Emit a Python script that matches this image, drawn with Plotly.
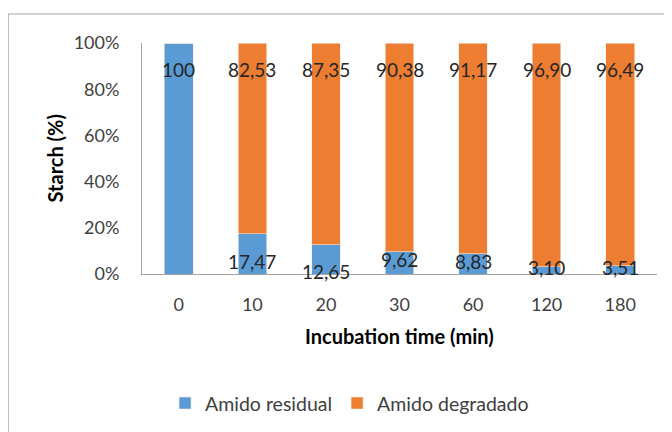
import plotly.graph_objects as go

categories = ["0", "10", "20", "30", "60", "120", "180"]
residual = [100, 17.47, 12.65, 9.62, 8.83, 3.10, 3.51]
degraded = [0, 82.53, 87.35, 90.38, 91.17, 96.90, 96.49]

# label placement (layout, in % units of the y axis)
residual_label_y = [88.7, 5.2, 0.9, 6.1, 5.2, 3.0, 3.0]
degraded_label_y = 88.7

BLUE = "#5B9BD5"
ORANGE = "#ED7D31"
FONT = "Lato"


def fmt(v):
    if v == 100:
        return "100"
    return f"{v:.2f}".replace(".", ",")


fig = go.Figure()
fig.add_trace(go.Bar(x=categories, y=residual, name="Amido residual",
                     marker=dict(color=BLUE, line=dict(color="#F3E9E0", width=0.6))))
fig.add_trace(go.Bar(x=categories, y=degraded, name="Amido degradado",
                     marker=dict(color=ORANGE, line=dict(color="#F3E9E0", width=0.6))))

annotations = []
for i, (r, d, ry) in enumerate(zip(residual, degraded, residual_label_y)):
    annotations.append(dict(x=i, y=ry, xref="x", yref="y", text=fmt(r), showarrow=False,
                            font=dict(family=FONT, size=19, color="#262626")))
    if d > 0:
        annotations.append(dict(x=i, y=degraded_label_y, xref="x", yref="y", text=fmt(d),
                                showarrow=False, font=dict(family=FONT, size=19, color="#262626")))

# axis titles
annotations.append(dict(x=0.5, y=-0.27, xref="paper", yref="paper", text="<b>Incubation time (min)</b>",
                        showarrow=False, font=dict(family=FONT, size=20, color="#000000"),
                        xanchor="center", yanchor="middle"))
annotations.append(dict(x=-0.169, y=0.5, xref="paper", yref="paper", text="<b>Starch (%)</b>",
                        showarrow=False, textangle=-90, font=dict(family=FONT, size=20, color="#000000"),
                        xanchor="center", yanchor="middle"))

fig.update_layout(
    barmode="stack",
    bargap=0.61,
    width=672, height=432,
    margin=dict(l=134, r=23, t=35, b=166),
    paper_bgcolor="white", plot_bgcolor="white",
    font=dict(family=FONT, size=18, color="#404040"),
    showlegend=True,
    legend=dict(orientation="h", x=0.403, y=-0.56, xanchor="center", yanchor="middle",
                font=dict(family=FONT, size=19.5, color="#404040"), itemwidth=30,
                traceorder="normal"),
    annotations=annotations,
    shapes=[dict(type="rect", xref="paper", yref="paper", x0=-0.26, x1=1.2, y0=-1.0, y1=1.1255,
                 line=dict(color="#A6A6A6", width=1.2), fillcolor="rgba(0,0,0,0)", layer="below")],
)
fig.update_xaxes(type="category", range=[-0.5, 6.5], showline=True, linecolor="#A6A6A6", linewidth=1,
                 ticks="", showgrid=False, ticklabelstandoff=14,
                 tickfont=dict(family=FONT, size=18, color="#404040"))
fig.update_yaxes(range=[0, 100], tickvals=[0, 20, 40, 60, 80, 100],
                 ticktext=["0%", "20%", "40%", "60%", "80%", "100%"],
                 showline=True, linecolor="#A6A6A6", linewidth=1, ticks="", showgrid=False,
                 zeroline=False, ticklabelstandoff=18,
                 tickfont=dict(family=FONT, size=18, color="#404040"))

fig.write_html("out.html")
